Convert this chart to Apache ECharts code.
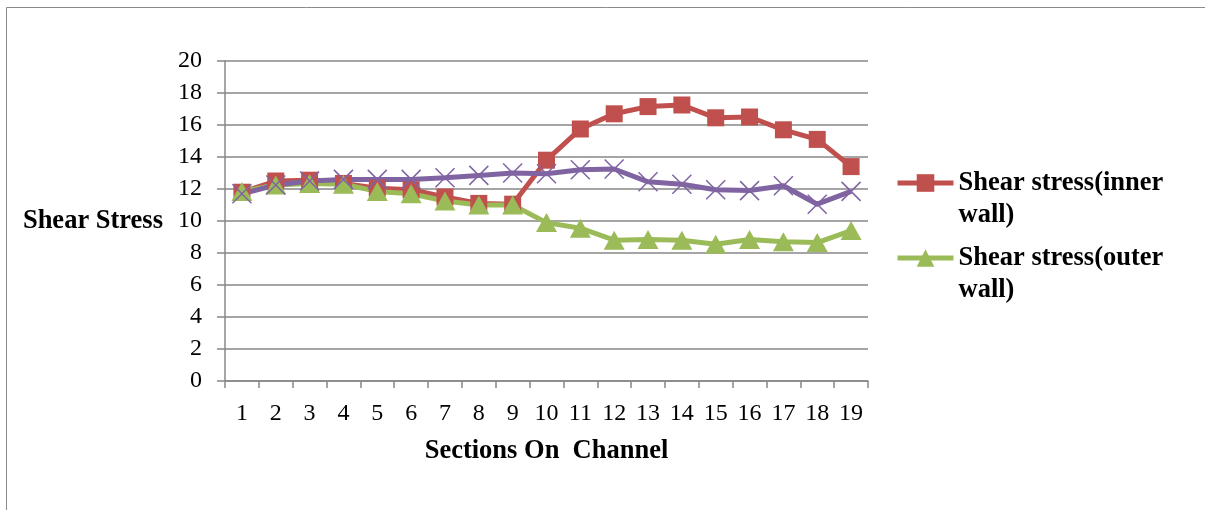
<!DOCTYPE html>
<html>
<head>
<meta charset="utf-8">
<style>
  html, body { margin: 0; padding: 0; background: #fff; }
  #chart { width: 1205px; height: 510px; }
</style>
<script src="https://cdn.jsdelivr.net/npm/echarts@6/dist/echarts.min.js"></script>
</head>
<body>
<div id="chart"></div>
<script>
// Sections along the channel
const sections = ['1','2','3','4','5','6','7','8','9','10','11','12','13','14','15','16','17','18','19'];

// Wall shear stress per section
const innerWall = [11.8, 12.5, 12.55, 12.35, 12.05, 11.95, 11.5, 11.1, 11.05, 13.8, 15.75, 16.7, 17.15, 17.25, 16.45, 16.5, 15.7, 15.1, 13.4];
const outerWall = [11.85, 12.25, 12.35, 12.3, 11.85, 11.7, 11.25, 11.0, 11.0, 9.9, 9.55, 8.8, 8.85, 8.8, 8.55, 8.85, 8.7, 8.65, 9.4];
const middle    = [11.7, 12.25, 12.5, 12.6, 12.6, 12.6, 12.7, 12.85, 13.0, 12.95, 13.2, 13.25, 12.45, 12.3, 11.95, 11.9, 12.2, 11.05, 11.85];

const NAME_INNER = 'Shear stress(inner wall)';
const NAME_OUTER = 'Shear stress(outer wall)';
const NAME_MID = 'Shear stress(middle)';

const serif = '"Liberation Serif", "Times New Roman", serif';
const axisGray = '#878787';

const chart = echarts.init(document.getElementById('chart'), null, { renderer: 'canvas' });

// One legend per entry; a leading blank line keeps the icon level with the first text line
function legendAt(top, name, label) {
  return {
    data: [name],
    left: 895,
    top: top,
    padding: 0,
    itemWidth: 56,
    itemHeight: 22,
    itemGap: 0,
    selectedMode: false,
    lineStyle: { width: 5 },
    formatter: () => '\n' + label,
    textStyle: {
      fontFamily: serif,
      fontWeight: 'bold',
      fontSize: 26.5,
      lineHeight: 32,
      color: '#000'
    }
  };
}

chart.setOption({
  animation: false,
  backgroundColor: '#fff',
  graphic: [{
    type: 'rect',
    shape: { x: 6.5, y: 7.5, width: 1220, height: 520 },
    style: { fill: 'none', stroke: '#8a8a8a', lineWidth: 1 },
    silent: true
  }],
  legend: [
    legendAt(135, NAME_INNER, 'Shear stress(inner\nwall)'),
    legendAt(210, NAME_OUTER, 'Shear stress(outer\nwall)')
  ],
  grid: { left: 225, right: 337, top: 61, bottom: 129, containLabel: false },
  xAxis: {
    type: 'category',
    data: sections,
    boundaryGap: true,
    name: 'Sections On  Channel',
    nameLocation: 'middle',
    nameGap: 57,
    nameTextStyle: { fontFamily: serif, fontWeight: 'bold', fontSize: 26.5, color: '#000' },
    axisLine: { lineStyle: { color: axisGray, width: 1.5 } },
    axisTick: { show: true, length: 7, interval: 0, alignWithLabel: false, lineStyle: { color: axisGray, width: 1.5 } },
    axisLabel: { interval: 0, margin: 21, fontFamily: serif, fontSize: 24, color: '#000' },
    splitLine: { show: false }
  },
  yAxis: {
    type: 'value',
    min: 0,
    max: 20,
    interval: 2,
    name: 'Shear Stress',
    nameLocation: 'middle',
    nameRotate: 0,
    nameGap: 62,
    nameTextStyle: { fontFamily: serif, fontWeight: 'bold', fontSize: 26.5, color: '#000', align: 'right' },
    axisLine: { show: true, lineStyle: { color: axisGray, width: 1.5 } },
    axisTick: { show: true, length: 8, lineStyle: { color: axisGray, width: 1.5 } },
    axisLabel: { margin: 23, fontFamily: serif, fontSize: 24, color: '#000' },
    splitLine: { show: true, lineStyle: { color: axisGray, width: 1.5 } }
  },
  series: [
    {
      name: NAME_INNER,
      type: 'line',
      data: innerWall,
      symbol: 'rect',
      symbolSize: 17,
      showAllSymbol: true,
      color: '#C0504D',
      lineStyle: { width: 5, color: '#C0504D', join: 'round' },
      itemStyle: { color: '#C0504D', borderWidth: 0 }
    },
    {
      name: NAME_OUTER,
      type: 'line',
      data: outerWall,
      symbol: 'triangle',
      symbolSize: [21, 19],
      showAllSymbol: true,
      color: '#9BBB59',
      lineStyle: { width: 5, color: '#9BBB59', join: 'round' },
      itemStyle: { color: '#9BBB59', borderWidth: 0 }
    },
    {
      name: NAME_MID,
      type: 'line',
      data: middle,
      symbol: 'path://M0,0L10,10M10,0L0,10',
      symbolSize: 19,
      showAllSymbol: true,
      color: '#8064A2',
      lineStyle: { width: 5, color: '#8064A2', join: 'round' },
      itemStyle: { color: '#8064A2', borderColor: '#8064A2', borderWidth: 1.5 }
    }
  ]
});
</script>
</body>
</html>
